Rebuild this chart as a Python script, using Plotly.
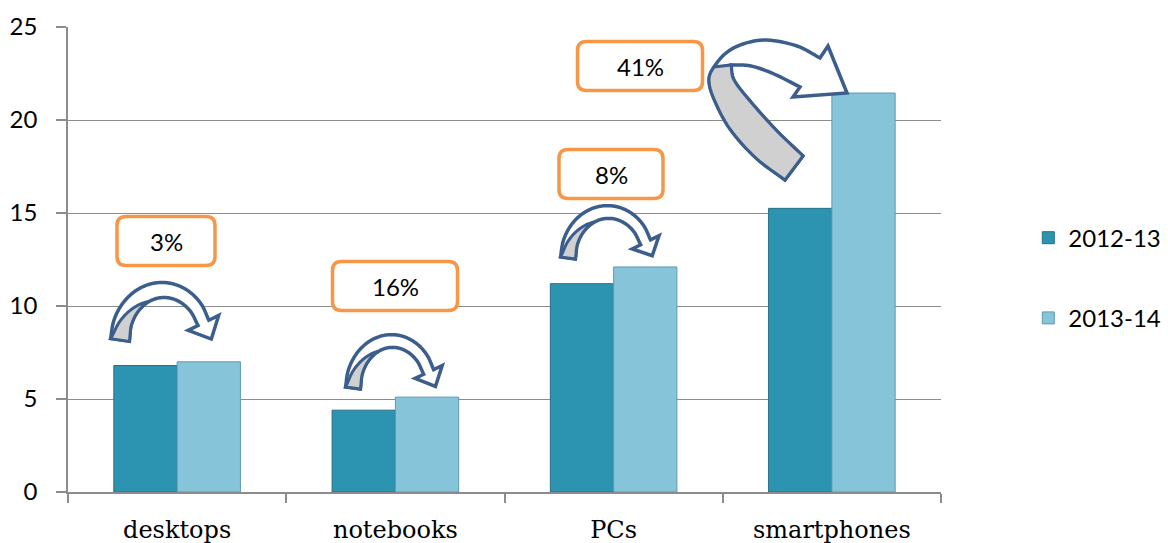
import numpy as np
import plotly.graph_objects as go

# ---- data ----------------------------------------------------------------
categories = ["desktops", "notebooks", "PCs", "smartphones"]
series_names = ["2012-13", "2013-14"]
values_2012_13 = [6.8, 4.4, 11.2, 15.25]
values_2013_14 = [7.0, 5.1, 12.1, 21.45]
y_ticks = [0, 5, 10, 15, 20, 25]

# growth from one year to the next, shown in the orange call-outs
growth_labels = [f"{round((b / a - 1) * 100):.0f}%" for a, b in zip(values_2012_13, values_2013_14)]

# ---- page geometry ---------------------------------------------------------
W, H = 1168, 543
M_L, M_R, M_T, M_B = 68, 227, 27, 51
X_RANGE = [-0.5, 3.5]
Y_RANGE = [0, 25]
PLOT_W = W - M_L - M_R
PLOT_H = H - M_T - M_B
PX_PER_X = PLOT_W / (X_RANGE[1] - X_RANGE[0])
PX_PER_Y = PLOT_H / (Y_RANGE[1] - Y_RANGE[0])


def px_to_data(px, py):
    """Pixel position inside the page -> axis coordinates."""
    return X_RANGE[0] + (px - M_L) / PX_PER_X, Y_RANGE[0] + (H - M_B - py) / PX_PER_Y


def path_from_px(points, close=True):
    parts = []
    for i, (px, py) in enumerate(points):
        x, y = px_to_data(px, py)
        parts.append(("M" if i == 0 else "L") + f"{x:.5f},{y:.5f}")
    return " ".join(parts) + (" Z" if close else "")


def catmull_rom(waypoints, samples=24):
    pts = np.asarray(waypoints, dtype=float)
    ext = np.vstack([2 * pts[0] - pts[1], pts, 2 * pts[-1] - pts[-2]])
    out = []
    for i in range(1, len(ext) - 2):
        p0, p1, p2, p3 = ext[i - 1], ext[i], ext[i + 1], ext[i + 2]
        for t in np.linspace(0, 1, samples, endpoint=False):
            t2, t3 = t * t, t * t * t
            out.append(0.5 * ((2 * p1) + (-p0 + p2) * t + (2 * p0 - 5 * p1 + 4 * p2 - p3) * t2
                              + (-p0 + 3 * p1 - 3 * p2 + p3) * t3))
    out.append(pts[-1])
    return np.array(out)


def ellipse_waypoints(cx, base_y, rx, ry, end_deg, n=9):
    ang = np.radians(np.linspace(180, end_deg, n))
    return [(cx + rx * np.cos(a), base_y - ry * np.sin(a)) for a in ang]


def curved_arrow(waypoints, w0, w1, head_w, head_len, gray_to, gray_pow):
    """Band of varying width along a centre line, arrow head at the end,
    plus the shaded 'back face' of the first part of the band."""
    c = catmull_rom(waypoints)
    tan = np.gradient(c, axis=0)
    tan /= np.linalg.norm(tan, axis=1)[:, None]
    nrm = np.stack([-tan[:, 1], tan[:, 0]], axis=1)  # points to the inside of the bend
    seg = np.r_[0, np.cumsum(np.linalg.norm(np.diff(c, axis=0), axis=1))]
    s = seg / seg[-1]
    half = (w0 + (w1 - w0) * s)[:, None] / 2
    outer = c - nrm * half
    inner = c + nrm * half
    end, t_end, n_end = c[-1], tan[-1], nrm[-1]
    head = [end - n_end * head_w / 2, end + t_end * head_len, end + n_end * head_w / 2]
    body = list(outer) + head + list(inner[::-1])
    k = max(2, int(np.searchsorted(s, gray_to)))
    frac = (s[:k + 1] / s[k]) ** gray_pow
    fold = c[:k + 1] + nrm[:k + 1] * half[:k + 1] * (2 * frac[:, None] - 1)
    back = list(inner[:k + 1]) + list(fold[::-1])
    return body, back


def rounded_box(cx, cy, w, h, r):
    x0, x1, y0, y1 = cx - w / 2, cx + w / 2, cy - h / 2, cy + h / 2

    def p(x, y):
        a, b = px_to_data(x, y)
        return f"{a:.5f},{b:.5f}"

    return (f"M{p(x0 + r, y0)} L{p(x1 - r, y0)} Q{p(x1, y0)} {p(x1, y0 + r)} "
            f"L{p(x1, y1 - r)} Q{p(x1, y1)} {p(x1 - r, y1)} L{p(x0 + r, y1)} "
            f"Q{p(x0, y1)} {p(x0, y1 - r)} L{p(x0, y0 + r)} Q{p(x0, y0)} {p(x0 + r, y0)} Z")


# ---- styles ----------------------------------------------------------------
COL_A = "#2C93B1"
COL_A_EDGE = "#22708A"
COL_B = "#86C4DA"
COL_B_EDGE = "#5E9AB0"
GRID = "#8C8C8C"
ARROW_LINE = "#3B5E8D"
ARROW_BACK = "#D0D0D0"
BOX_LINE = "#F79646"
SANS = "Lato, 'Open Sans', sans-serif"
SERIF = "'DejaVu Serif', 'Liberation Serif', serif"

fig = go.Figure()
fig.add_trace(go.Bar(name=series_names[0], x=categories, y=values_2012_13,
                     marker=dict(color=COL_A, line=dict(color=COL_A_EDGE, width=1)),
                     legendgroup="a"))
fig.add_trace(go.Bar(name=series_names[1], x=categories, y=values_2013_14,
                     marker=dict(color=COL_B, line=dict(color=COL_B_EDGE, width=1)),
                     legendgroup="b"))

shapes = []


def add_arrow(body, back):
    shapes.append(dict(type="path", xref="x", yref="y", path=path_from_px(body),
                       fillcolor="white", line=dict(color=ARROW_LINE, width=3.5), layer="above"))
    shapes.append(dict(type="path", xref="x", yref="y", path=path_from_px(back),
                       fillcolor=ARROW_BACK, line=dict(color=ARROW_LINE, width=3), layer="above"))


# small curved arrows over the first three bar pairs (pixel layout)
small_arrows = [
    dict(way=ellipse_waypoints(163, 340, 43, 50, 20), w0=19, w1=12, head_w=34, head_len=18),
    dict(way=ellipse_waypoints(392, 388, 39, 47, 20), w0=15, w1=11, head_w=30, head_len=16),
    dict(way=ellipse_waypoints(608, 258, 40, 46, 20), w0=15, w1=11, head_w=30, head_len=15),
]
for spec in small_arrows:
    add_arrow(*curved_arrow(spec["way"], spec["w0"], spec["w1"], spec["head_w"],
                            spec["head_len"], 0.42, 1.0))

# large swung arrow over the smartphones pair, outlined edge by edge (pixels)
SAMPLES = 8
big_outer_way = [(785, 180), (756, 158), (730, 129), (714, 99), (709, 80), (714, 67),
                 (726, 53), (743, 44), (767, 40), (797, 46), (820, 58)]
big_outer = catmull_rom(big_outer_way, samples=SAMPLES)
big_head = [(828, 46), (847, 93), (793, 97)]
big_inner_top = catmull_rom([(800, 87), (774, 74), (751, 66), (731, 65)], samples=SAMPLES)
big_inner_leg = catmull_rom([(731, 65), (734, 80), (750, 101), (776, 130), (803, 156)],
                            samples=SAMPLES)
big_body = list(big_outer) + big_head + list(big_inner_top) + list(big_inner_leg[1:])
n_back = 5 * SAMPLES  # outer edge up to the fold
big_back = list(big_outer[:n_back + 1]) + list(big_inner_leg)
add_arrow(big_body, big_back)

# orange call-out boxes: centre x, centre y, width, height (pixels)
box_specs = [(166, 241, 98, 49), (395, 286, 125, 49), (611, 174, 104, 49), (640, 66, 125, 49)]
annotations = []
for (cx, cy, bw, bh), label in zip(box_specs, growth_labels):
    shapes.append(dict(type="path", xref="x", yref="y", path=rounded_box(cx, cy, bw, bh, 9),
                       fillcolor="white", line=dict(color=BOX_LINE, width=3.5), layer="above"))
    ax, ay = px_to_data(cx, cy)
    annotations.append(dict(x=ax, y=ay, xref="x", yref="y", text=label, showarrow=False,
                            font=dict(family=SANS, size=24, color="black"),
                            xanchor="center", yanchor="middle"))

fig.update_layout(
    width=W, height=H,
    margin=dict(l=M_L, r=M_R, t=M_T, b=M_B, autoexpand=False),
    paper_bgcolor="white", plot_bgcolor="white",
    barmode="group", bargap=0.42, bargroupgap=0,
    shapes=shapes, annotations=annotations,
    legend=dict(x=1.1, y=0.46, xanchor="left", yanchor="middle",
                font=dict(family=SANS, size=24, color="black"),
                tracegroupgap=46, itemwidth=30, bgcolor="rgba(0,0,0,0)"),
    xaxis=dict(type="category", range=X_RANGE, showgrid=False, showline=True,
               linecolor=GRID, linewidth=1.5, ticks="outside", tickson="boundaries",
               ticklen=9, tickcolor=GRID, tickwidth=1.5,
               tickfont=dict(family=SERIF, size=24, color="black"), ticklabelstandoff=15),
    yaxis=dict(range=Y_RANGE, tickvals=y_ticks, showgrid=True, gridcolor=GRID, gridwidth=1.2,
               showline=True, linecolor=GRID, linewidth=1.5, ticks="outside", ticklen=10,
               tickcolor=GRID, tickwidth=1.5, zeroline=False,
               tickfont=dict(family=SANS, size=24, color="black"), ticklabelstandoff=14),
)

fig.write_html("out.html")
